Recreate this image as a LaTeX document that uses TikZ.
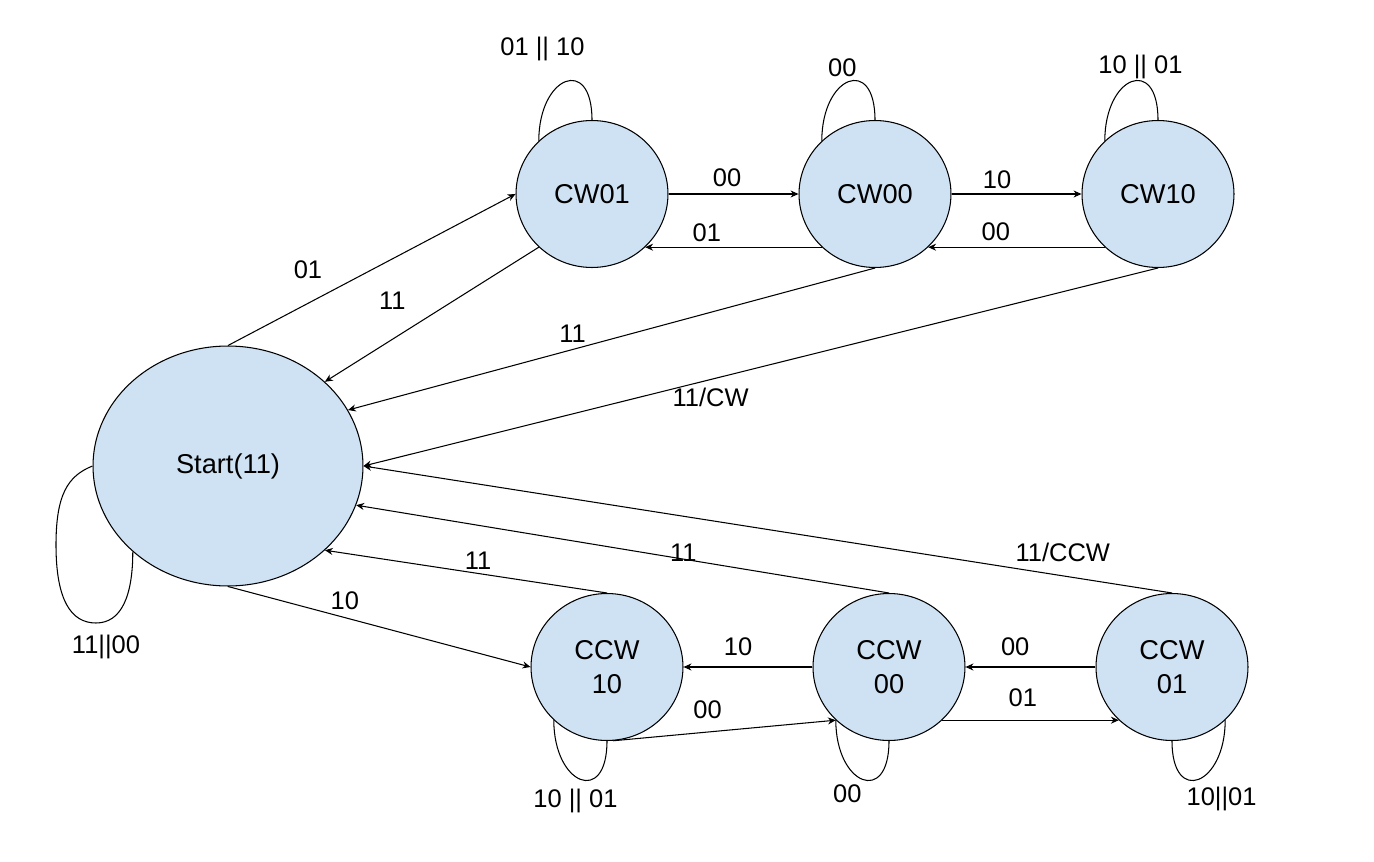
\documentclass[tikz,border=0pt]{standalone}
\usepackage{fontspec}
\setmainfont{Liberation Sans}
\usetikzlibrary{shapes.geometric,arrows.meta}
\definecolor{statefill}{HTML}{CFE2F3}

\begin{document}
\begin{tikzpicture}
[x=0.02cm, y=-0.02cm, line width=0.6pt,
state/.style={ellipse,draw,fill=statefill,inner sep=0pt,align=center,
  minimum width=3.04cm,minimum height=2.94cm,font=\fontsize{15.5}{19}\selectfont},
trans/.style={-{Stealth[length=4.5pt,width=4pt]}},
selfloop/.style={},
lbl/.style={inner sep=0pt,font=\fontsize{14.5}{17}\selectfont},
]
\useasboundingbox (0,0) rectangle (1374,862);

\node[state,minimum width=5.4cm,minimum height=4.8cm] (start) at (228,466) {Start(11)};
\node[state] (cw01) at (592,194) {CW01};
\node[state] (cw00) at (875,194) {CW00};
\node[state] (cw10) at (1158,194) {CW10};
\node[state] (ccw10) at (607,667) {CCW\\10};
\node[state] (ccw00) at (889,667) {CCW\\00};
\node[state] (ccw01) at (1172,667) {CCW\\01};

\draw[selfloop] (start.west) .. controls +(-25,10) and +(0,-50) .. (56,545)
  .. controls +(0,55) and +(-25,0) .. (96,623) node[lbl,shift={(10,24)}] (l-start) {11||00}
  .. controls +(25,0) and +(0,45) .. (start.-138);
\draw[selfloop] (cw01.135) .. controls +(0,-65) and +(0,-65) .. (cw01.north)
  node[lbl,pos=.5,shift={(-23,-33)}] (l-cw01) {01 || 10};
\draw[selfloop] (cw00.135) .. controls +(0,-65) and +(0,-65) .. (cw00.north)
  node[lbl,pos=.5,shift={(-6,-14)}] (l-cw00) {00};
\draw[selfloop] (cw10.135) .. controls +(0,-65) and +(0,-65) .. (cw10.north)
  node[lbl,pos=.5,shift={(9,-15)}] (l-cw10) {10 || 01};
\draw[selfloop] (ccw10.-135) .. controls +(0,65) and +(0,65) .. (ccw10.south)
  node[lbl,pos=.5,shift={(-5,22)}] (l-ccw10) {10 || 01};
\draw[selfloop] (ccw00.-135) .. controls +(0,65) and +(0,65) .. (ccw00.south)
  node[lbl,pos=.5,shift={(-15,14)}] (l-ccw00) {00};
\draw[selfloop] (ccw01.south) .. controls +(0,65) and +(0,65) .. (ccw01.-45)
  node[lbl,pos=.5,shift={(23,20)}] (l-ccw01) {10||01};

\draw[trans] (start.north) -- node[lbl,pos=.278,shift={(0,-34)}] (l-s-cw01) {01} (cw01.west);
\draw[trans] (cw01.-135) -- node[lbl,pos=.685,shift={(0,-39)}] (l-cw01-s) {11} (start.41);
\draw[trans] (cw00.south) -- node[lbl,pos=.574,shift={(0,-16)}] (l-cw00-s) {11} (start.25);
\draw[trans] (cw10.south) -- node[lbl,pos=.563,shift={(0,18)}] (l-cw10-s) {11/CW} (start.east);
\draw[trans] (ccw01.north) -- node[lbl,pos=.135,shift={(0,-23)}] (l-ccw01-s) {11/CCW} (start.east);
\draw[trans] (ccw00.north) -- node[lbl,pos=.386,shift={(0,-6)}] (l-ccw00-s) {11} (start.-17);
\draw[trans] (ccw10.north) -- node[lbl,pos=.457,shift={(0,-13)}] (l-ccw10-s) {11} (start.-41);
\draw[trans] (start.south) -- node[lbl,pos=.386,shift={(0,-17)}] (l-s-ccw10) {10} (ccw10.west);

\draw[trans] (cw01.east) -- node[lbl,pos=.45,shift={(0,-16)}] (l-cw01-cw00) {00} (cw00.west);
\draw[trans] (cw00.-135) -- node[lbl,pos=.651,shift={(0,-14)}] (l-cw00-cw01) {01} (cw01.-45);
\draw[trans] (cw00.east) -- node[lbl,pos=.351,shift={(0,-14)}] (l-cw00-cw10) {10} (cw10.west);
\draw[trans] (cw10.-135) -- node[lbl,pos=.617,shift={(0,-15)}] (l-cw10-cw00) {00} (cw00.-45);

\draw[trans] (ccw00.west) -- node[lbl,pos=.577,shift={(0,-20)}] (l-ccw00-ccw10) {10} (ccw10.east);
\draw[trans] (ccw01.west) -- node[lbl,pos=.618,shift={(0,-20)}] (l-ccw01-ccw00) {00} (ccw00.east);
\draw[trans] (ccw00.-45) -- node[lbl,pos=.457,shift={(0,-22)}] (l-ccw00-ccw01) {01} (ccw01.-135);
\draw[trans] (ccw10.-85) -- node[lbl,pos=.423,shift={(0,-22)}] (l-ccw10-ccw00) {00} (ccw00.-135);
\end{tikzpicture}
\end{document}
